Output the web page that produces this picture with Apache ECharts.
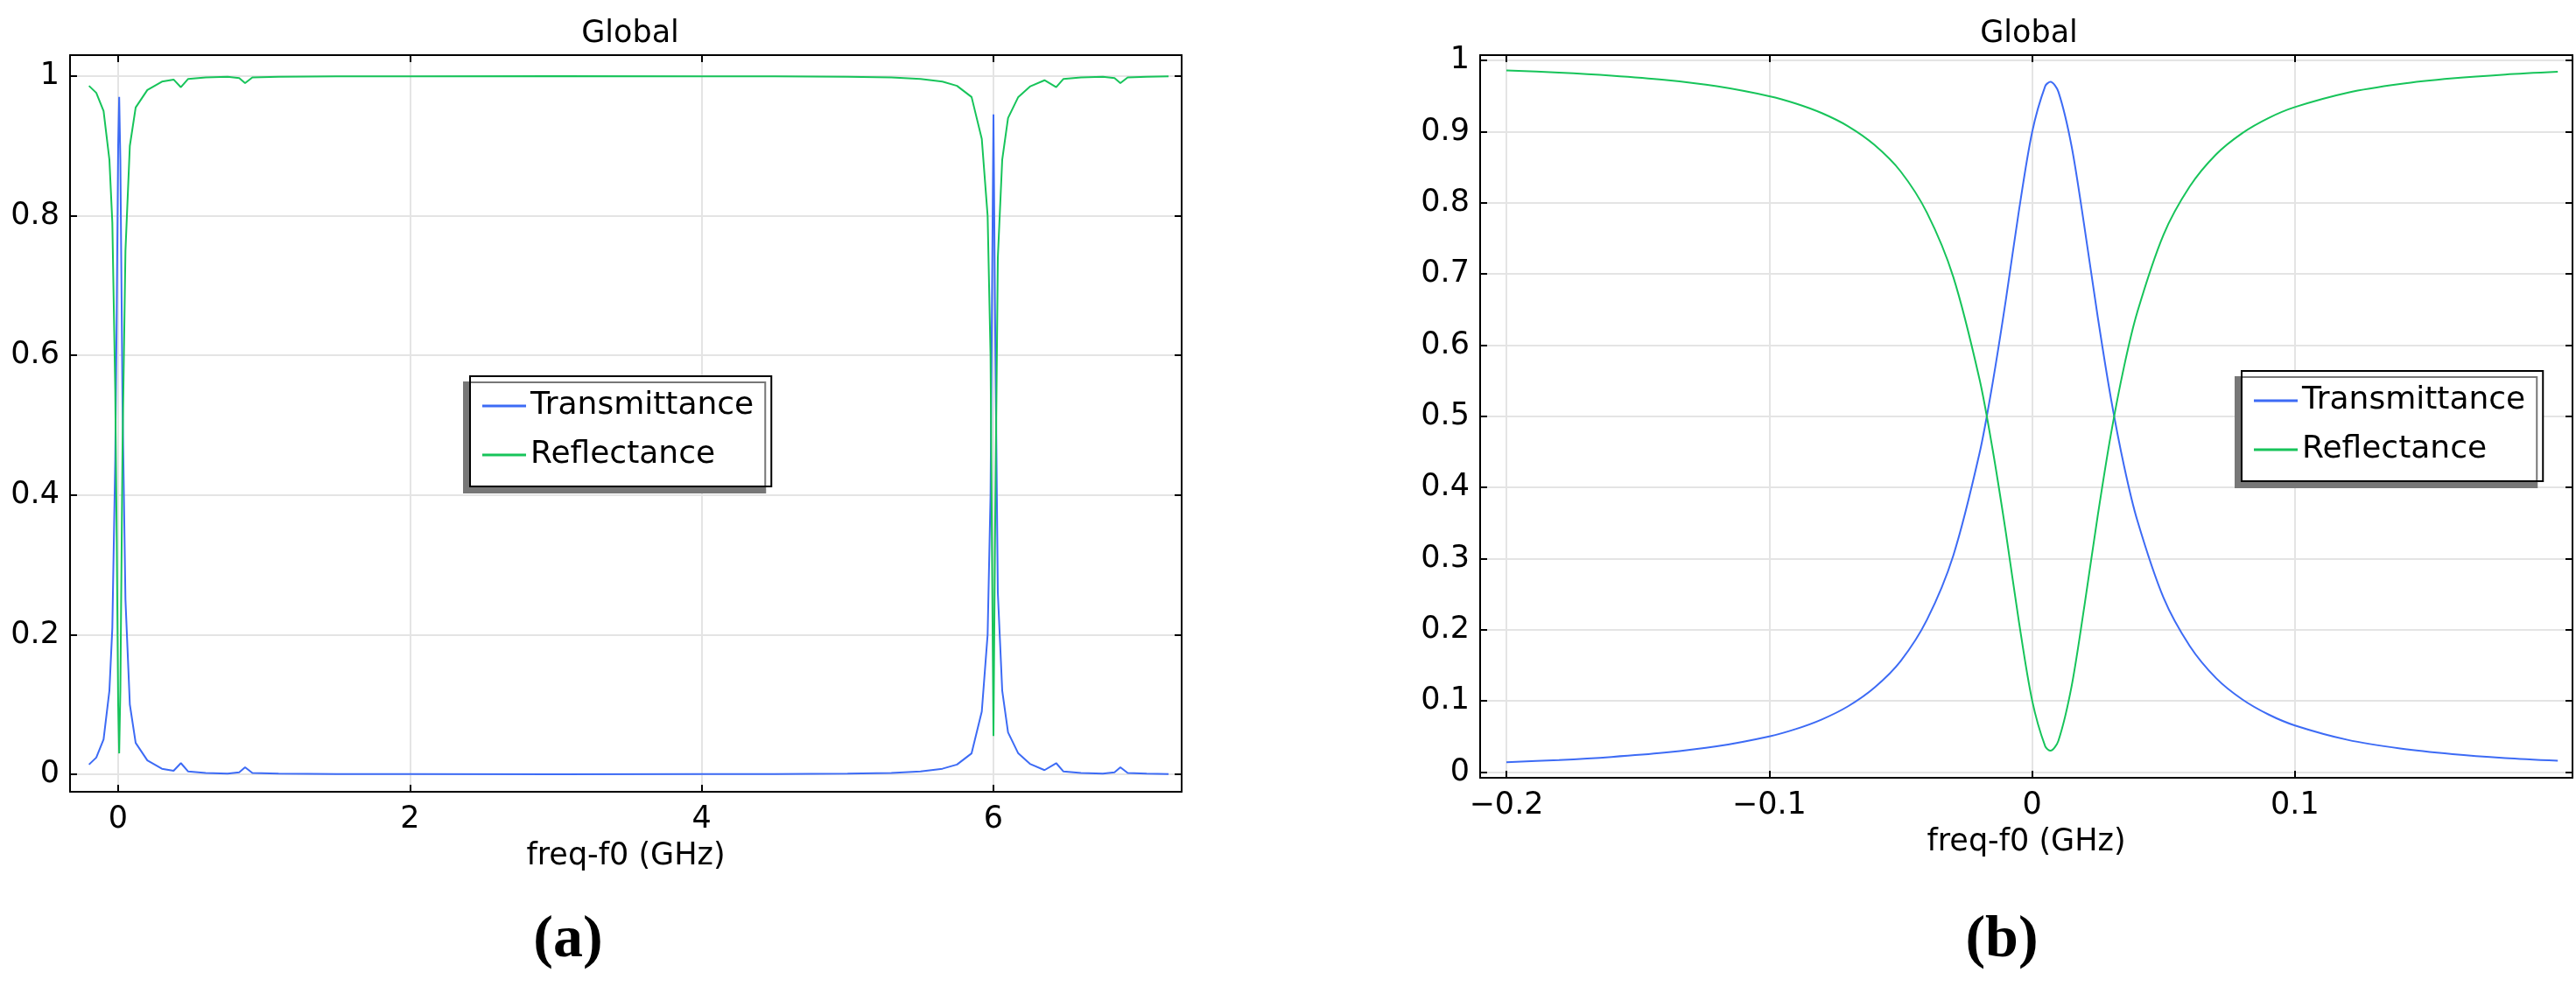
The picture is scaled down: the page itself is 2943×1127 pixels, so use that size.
<!DOCTYPE html>
<html>
<head>
<meta charset="utf-8">
<script src="https://cdn.jsdelivr.net/npm/echarts@6/dist/echarts.min.js"></script>
<style>html,body{margin:0;padding:0;background:#fff}#container{width:2943px;height:1127px}</style>
</head>
<body>
<div id="container"></div>
<script>
// (a) wide sweep
var freqA = [-0.2,-0.15,-0.1,-0.06,-0.04,-0.02,-0.01,0,0.007,0.015,0.03,0.05,0.08,0.12,0.2,0.3,0.38,0.43,0.48,0.6,0.75,0.83,0.87,0.92,1.1,1.5,2,3,4,4.5,5,5.3,5.5,5.65,5.75,5.85,5.92,5.96,5.98,5.99,6,6.01,6.03,6.06,6.1,6.17,6.25,6.35,6.43,6.48,6.6,6.75,6.83,6.87,6.92,7.05,7.2];
var transA = [0.014,0.024,0.05,0.12,0.21,0.45,0.66,0.9,0.97,0.88,0.53,0.25,0.1,0.045,0.02,0.008,0.005,0.016,0.004,0.002,0.001,0.003,0.01,0.002,0.001,0.0005,0.0003,0.0002,0.0003,0.0005,0.001,0.002,0.004,0.008,0.014,0.03,0.09,0.2,0.4,0.68,0.945,0.68,0.26,0.12,0.06,0.03,0.015,0.006,0.016,0.004,0.002,0.001,0.003,0.01,0.002,0.001,0.0005];
var reflA = [0.986,0.976,0.95,0.88,0.79,0.55,0.34,0.1,0.03,0.12,0.47,0.75,0.9,0.955,0.98,0.992,0.995,0.984,0.996,0.998,0.999,0.997,0.99,0.998,0.999,0.9995,0.9997,0.9998,0.9997,0.9995,0.999,0.998,0.996,0.992,0.986,0.97,0.91,0.8,0.6,0.32,0.055,0.32,0.74,0.88,0.94,0.97,0.985,0.994,0.984,0.996,0.998,0.999,0.997,0.99,0.998,0.999,0.9995];

// (b) zoom around the first resonance
var freqB = [-0.2,-0.18,-0.16,-0.14,-0.12,-0.1,-0.09,-0.08,-0.07,-0.06,-0.05,-0.04,-0.03,-0.02,-0.015,-0.01,-0.005,0,0.005,0.007,0.01,0.015,0.02,0.025,0.03,0.035,0.04,0.05,0.06,0.07,0.08,0.09,0.1,0.12,0.14,0.16,0.18,0.2];
var transB = [0.0139,0.017,0.0213,0.0272,0.0362,0.0502,0.0604,0.074,0.0925,0.1186,0.156,0.214,0.304,0.448,0.547,0.663,0.789,0.899,0.964,0.97,0.956,0.88,0.764,0.639,0.525,0.43,0.354,0.245,0.177,0.132,0.102,0.0808,0.0655,0.0453,0.0331,0.0252,0.0198,0.016];
var reflB = [0.9861,0.983,0.9787,0.9728,0.9638,0.9498,0.9396,0.926,0.9075,0.8814,0.844,0.786,0.696,0.552,0.453,0.337,0.211,0.101,0.036,0.03,0.044,0.12,0.236,0.361,0.475,0.57,0.646,0.755,0.823,0.868,0.898,0.9192,0.9345,0.9547,0.9669,0.9748,0.9802,0.984];

var ticksA = [0, 2, 4, 6];
var ticksAy = [0, 0.2, 0.4, 0.6, 0.8, 1];
var ticksB = [-0.2, -0.1, 0, 0.1];
var ticksBy = [0, 0.1, 0.2, 0.3, 0.4, 0.5, 0.6, 0.7, 0.8, 0.9, 1];

var blue = '#3d6bf5', green = '#17c45a';
var font = 'DejaVu Sans';

function zip(x, y) { return x.map(function (v, i) { return [v, y[i]]; }); }
function fmt(v) { return String(v).replace('-', '\u2212'); }

function axis(o) {
    return Object.assign({
        type: 'value',
        axisLine: { show: true, onZero: false, lineStyle: { color: '#000', width: 2 } },
        axisTick: { show: true, inside: true, length: 8, lineStyle: { color: '#000', width: 2 } },
        axisLabel: { color: '#000', fontFamily: font, fontSize: 35, formatter: fmt },
        splitLine: { show: true, lineStyle: { color: '#e4e4e4', width: 2 } }
    }, o);
}

var grids = [
    { left: 80, top: 63, width: 1270, height: 842 },
    { left: 1691, top: 63, width: 1248, height: 826 }
];
var xr = [[-0.33, 7.29, ticksA], [-0.21, 0.2056, ticksB]];
var yr = [[-0.025, 1.03, ticksAy], [-0.008, 1.0075, ticksBy]];

var xAxes = [], yAxes = [];
for (var g = 0; g < 2; g++) {
    var xa = axis({ gridIndex: g, min: xr[g][0], max: xr[g][1], position: 'bottom',
        name: 'freq-f0 (GHz)', nameLocation: 'middle', nameGap: 56,
        nameTextStyle: { color: '#000', fontFamily: font, fontSize: 35 } });
    xa.axisTick.customValues = xr[g][2];
    xa.axisLabel.customValues = xr[g][2];
    xa.axisLabel.margin = 14;
    xAxes.push(xa);
    var xt = axis({ gridIndex: g, min: xr[g][0], max: xr[g][1], position: 'top' });
    xt.axisTick.customValues = xr[g][2];
    xt.axisLabel = { show: false };
    xt.splitLine = { show: false };
    xAxes.push(xt);

    var ya = axis({ gridIndex: g, min: yr[g][0], max: yr[g][1], position: 'left' });
    ya.axisTick.customValues = yr[g][2];
    ya.axisLabel.customValues = yr[g][2];
    ya.axisLabel.margin = 12;
    yAxes.push(ya);
    var yt = axis({ gridIndex: g, min: yr[g][0], max: yr[g][1], position: 'right' });
    yt.axisTick.customValues = yr[g][2];
    yt.axisLabel = { show: false };
    yt.splitLine = { show: false };
    yAxes.push(yt);
}

function legend(left, top) {
    return {
        left: left, top: top, orient: 'vertical', itemGap: 20, itemWidth: 50, itemHeight: 3,
        padding: [16, 20, 18, 14], icon: 'rect',
        data: ['Transmittance', 'Reflectance'],
        backgroundColor: '#fff', borderColor: '#000', borderWidth: 2,
        shadowColor: '#777', shadowBlur: 0, shadowOffsetX: -7, shadowOffsetY: 7,
        textStyle: { color: '#000', fontFamily: font, fontSize: 36 }
    };
}

function line(name, color, xi, yi, data, smooth) {
    return { name: name, type: 'line', xAxisIndex: xi, yAxisIndex: yi, data: data, smooth: smooth,
        showSymbol: false, lineStyle: { color: color, width: 2 }, itemStyle: { color: color } };
}

var myChart = echarts.init(document.getElementById('container'));
var option = {
    animation: false,
    title: [
        { text: 'Global', left: 715, top: 16, textAlign: 'center', textStyle: { fontFamily: font, fontSize: 35, fontWeight: 'normal', color: '#000' } },
        { text: 'Global', left: 2313, top: 16, textAlign: 'center', textStyle: { fontFamily: font, fontSize: 35, fontWeight: 'normal', color: '#000' } },
        { text: '(a)', left: 644, top: 1036, textAlign: 'center', textStyle: { fontFamily: 'Liberation Serif', fontSize: 68, fontWeight: 'bold', color: '#000' } },
        { text: '(b)', left: 2282, top: 1036, textAlign: 'center', textStyle: { fontFamily: 'Liberation Serif', fontSize: 68, fontWeight: 'bold', color: '#000' } }
    ],
    grid: grids,
    xAxis: xAxes,
    yAxis: yAxes,
    legend: [legend(537, 430), legend(2561, 424)],
    series: [
        line('Transmittance', blue, 0, 0, zip(freqA, transA), false),
        line('Reflectance', green, 0, 0, zip(freqA, reflA), false),
        line('Transmittance', blue, 2, 2, zip(freqB, transB), 0.3),
        line('Reflectance', green, 2, 2, zip(freqB, reflB), 0.3)
    ]
};
myChart.setOption(option);
</script>
</body>
</html>
